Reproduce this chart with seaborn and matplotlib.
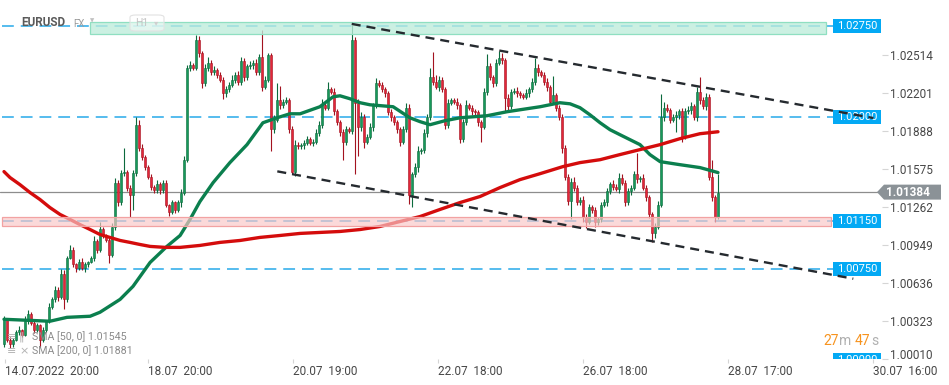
import numpy as np
import pandas as pd
import seaborn as sns
import matplotlib
matplotlib.use("Agg")
import matplotlib.pyplot as plt
from matplotlib.patches import Rectangle, Polygon, FancyBboxPatch
from matplotlib import transforms

sns.set_theme(style="white")
plt.rcParams['font.family'] = ['Roboto', 'DejaVu Sans']
plt.rcParams['lines.scale_dashes'] = False

# ---------------- data (EURUSD H1) ----------------
first_open = 1.0013
closes = [
    1.0034, 1.0017, 1.0013, 1.0017, 1.0023, 1.0025, 1.0021, 1.0032, 1.0038, 1.0031,
    1.0025, 1.0029, 1.0017, 1.0025, 1.0032, 1.0044, 1.0050, 1.0058, 1.0052, 1.0071,
    1.0050, 1.0084, 1.0091, 1.0079, 1.0076, 1.0081, 1.0076, 1.0079, 1.0081, 1.0084,
    1.0098, 1.0091, 1.0108, 1.0103, 1.0099, 1.0087, 1.0110, 1.0146, 1.0130, 1.0154,
    1.0155, 1.0142, 1.0136, 1.0154, 1.0194, 1.0175, 1.0167, 1.0159, 1.0151, 1.0143,
    1.0140, 1.0145, 1.0140, 1.0146, 1.0128, 1.0122, 1.0130, 1.0124, 1.0130, 1.0138,
    1.0165, 1.0241, 1.0243, 1.0241, 1.0264, 1.0253, 1.0228, 1.0241, 1.0245, 1.0237,
    1.0239, 1.0235, 1.0231, 1.0220, 1.0223, 1.0227, 1.0231, 1.0235, 1.0229, 1.0246,
    1.0233, 1.0242, 1.0243, 1.0245, 1.0237, 1.0250, 1.0225, 1.0231, 1.0251, 1.0190,
    1.0198, 1.0214, 1.0210, 1.0213, 1.0214, 1.0190, 1.0155, 1.0177, 1.0176, 1.0177,
    1.0179, 1.0182, 1.0179, 1.0180, 1.0187, 1.0194, 1.0210, 1.0208, 1.0223, 1.0221,
    1.0205, 1.0196, 1.0188, 1.0180, 1.0190, 1.0189, 1.0264, 1.0212, 1.0192, 1.0200,
    1.0180, 1.0184, 1.0192, 1.0210, 1.0228, 1.0227, 1.0223, 1.0220, 1.0204, 1.0200,
    1.0196, 1.0190, 1.0180, 1.0190, 1.0208, 1.0136, 1.0153, 1.0159, 1.0172, 1.0173,
    1.0187, 1.0200, 1.0233, 1.0229, 1.0225, 1.0231, 1.0223, 1.0194, 1.0212, 1.0214,
    1.0213, 1.0210, 1.0182, 1.0196, 1.0210, 1.0208, 1.0205, 1.0204, 1.0196, 1.0192,
    1.0221, 1.0242, 1.0233, 1.0228, 1.0245, 1.0249, 1.0247, 1.0216, 1.0209, 1.0221,
    1.0222, 1.0220, 1.0218, 1.0217, 1.0220, 1.0223, 1.0229, 1.0241, 1.0237, 1.0235,
    1.0229, 1.0225, 1.0213, 1.0218, 1.0208, 1.0200, 1.0175, 1.0151, 1.0131, 1.0147,
    1.0142, 1.0130, 1.0132, 1.0118, 1.0114, 1.0126, 1.0124, 1.0114, 1.0116, 1.0128,
    1.0130, 1.0139, 1.0145, 1.0143, 1.0141, 1.0150, 1.0146, 1.0130, 1.0139, 1.0142,
    1.0153, 1.0149, 1.0150, 1.0142, 1.0134, 1.0120, 1.0105, 1.0110, 1.0128, 1.0200,
    1.0208, 1.0206, 1.0198, 1.0200, 1.0202, 1.0205, 1.0184, 1.0205, 1.0206, 1.0209,
    1.0200, 1.0221, 1.0214, 1.0209, 1.0217, 1.0151, 1.0134, 1.0118, 1.0138,
]
upper_wick_pips = [
    2, 1, 2, 1, 2, 3, 1, 4, 3, 2, 1, 2, 1, 2, 1, 3, 2, 3, 2, 4,
    3, 2, 4, 2, 1, 2, 3, 2, 1, 2, 4, 2, 6, 2, 1, 2, 3, 4, 2, 3,
    20, 2, 2, 3, 6, 4, 3, 2, 2, 2, 1, 3, 2, 2, 2, 1, 2, 1, 2, 3,
    3, 2, 3, 2, 4, 3, 2, 3, 5, 2, 3, 2, 2, 2, 3, 2, 4, 2, 3, 4,
    3, 2, 3, 2, 3, 2, 22, 3, 2, 2, 4, 14, 12, 2, 3, 2, 3, 4, 3, 2,
    2, 3, 2, 2, 3, 3, 5, 3, 6, 2, 3, 2, 2, 2, 3, 2, 12, 2, 3, 4,
    3, 2, 3, 2, 4, 3, 2, 2, 2, 3, 2, 2, 2, 3, 4, 3, 2, 3, 4, 2,
    3, 3, 8, 21, 6, 3, 2, 2, 3, 2, 2, 3, 2, 3, 4, 2, 2, 2, 2, 2,
    3, 10, 3, 2, 3, 6, 4, 2, 3, 2, 2, 3, 2, 2, 3, 2, 3, 8, 3,
    2, 2, 3, 2, 16, 2, 2, 3, 2, 2, 3, 4, 2, 2, 3, 2, 3, 2, 2, 2,
    2, 3, 3, 2, 3, 2, 4, 3, 2, 3, 2, 3, 18, 2, 3, 2, 2, 2, 3, 3,
    19, 5, 3, 2, 3, 3, 2, 3, 3, 3, 4, 2, 4, 12, 3, 3, 2, 14, 2, 15,
]
lower_wick_pips = [
    2, 2, 3, 2, 1, 2, 2, 1, 2, 2, 3, 2, 6, 2, 2, 1, 2, 2, 3, 2,
    8, 2, 1, 2, 3, 2, 2, 3, 2, 1, 2, 3, 2, 2, 2, 7, 2, 3, 3, 2,
    2, 3, 18, 12, 2, 3, 2, 2, 2, 3, 2, 2, 3, 2, 2, 3, 2, 3, 2, 4,
    2, 2, 3, 2, 2, 3, 4, 2, 3, 2, 2, 3, 2, 5, 3, 2, 2, 3, 2, 2,
    3, 2, 2, 3, 2, 2, 3, 2, 2, 18, 3, 2, 3, 2, 2, 3, 2, 3, 2, 2,
    3, 2, 2, 3, 2, 2, 3, 2, 2, 2, 3, 2, 3, 15, 3, 2, 3, 59, 24, 3,
    5, 2, 2, 3, 2, 2, 2, 3, 2, 3, 2, 3, 4, 2, 2, 7, 10, 2, 4, 2,
    2, 3, 2, 2, 2, 3, 2, 4, 3, 2, 2, 3, 3, 2, 2, 2, 3, 2, 3, 12,
    2, 3, 2, 3, 2, 2, 3, 12, 3, 2, 2, 3, 2, 2, 2, 3, 2, 2, 3,
    2, 2, 3, 2, 2, 3, 2, 4, 3, 3, 15, 3, 2, 2, 4, 5, 2, 3, 4, 3,
    2, 2, 3, 2, 3, 2, 3, 2, 3, 2, 3, 2, 3, 2, 2, 3, 3, 8, 4, 2,
    2, 3, 2, 3, 2, 12, 3, 4, 2, 2, 3, 2, 3, 3, 2, 3, 3, 3, 4, 2,
]

sma50_bar = [0, 15.3, 21, 28.7, 32, 38.7, 43, 48.7, 54.3, 58.7, 62, 65.3, 69.7, 75.3, 81,
             86.3, 91, 95.3, 98.7, 105.3, 109.7, 112, 115.3, 118.7, 122, 129.7, 135.3, 138.7,
             142, 147, 152, 161, 167.7, 178.7, 185.3, 188.7, 192, 195.3, 198.7, 202, 205.3,
             212, 215.3, 218.7, 225.3, 232, 238]
sma50_val = [1.00337, 1.00321, 1.00353, 1.00362, 1.00395, 1.00501, 1.00608, 1.00805, 1.00937,
             1.01027, 1.01159, 1.01306, 1.01462, 1.01627, 1.01775, 1.01955, 1.01996, 1.02029,
             1.02029, 1.02087, 1.02169, 1.02177, 1.02153, 1.02120, 1.02103, 1.02087, 1.01996,
             1.01964, 1.01939, 1.01972, 1.01996, 1.02013, 1.02046, 1.02087, 1.02120, 1.02111,
             1.02079, 1.02021, 1.01955, 1.01898, 1.01857, 1.01775, 1.01693, 1.01635, 1.01610,
             1.01586, 1.01545]
sma200_bar = [0, 2, 5.3, 8.7, 12, 15.3, 18.7, 22, 25.3, 28.7, 32, 35.3, 38.7, 42, 45.3, 48.7,
              53.7, 58.7, 65.3, 72, 78.7, 85.3, 92, 98.7, 105.3, 112, 118.7, 125.3, 132, 138.7,
              145.3, 152, 158.7, 165.3, 172, 178.7, 186.3, 192, 198.7, 205.3, 212, 218.7,
              225.3, 232, 238]
sma200_val = [1.01553, 1.01504, 1.01446, 1.01380, 1.01323, 1.01257, 1.01200, 1.01159, 1.01117,
              1.01076, 1.01035, 1.01011, 1.00986, 1.00970, 1.00953, 1.00937, 1.00929, 1.00929,
              1.00945, 1.00970, 1.00986, 1.01011, 1.01027, 1.01044, 1.01052, 1.01060, 1.01076,
              1.01101, 1.01142, 1.01183, 1.01241, 1.01298, 1.01348, 1.01421, 1.01487, 1.01536,
              1.01594, 1.01627, 1.01651, 1.01693, 1.01734, 1.01775, 1.01824, 1.01865, 1.01881]

level_lines = [1.0275, 1.0200, 1.0115, 1.0075]
resistance_zone = [1.02684, 1.02783]
support_zone = [1.01101, 1.01183]
label_values = [1.0275, 1.0200, 1.0115, 1.0075, 1.0000]
label_texts = ["1.02750", "1.02000", "1.01150", "1.00750", "1.00000"]
current_price = 1.01384
upper_trend_bar = [115.9, 289.8]
upper_trend_val = [1.02769, 1.01994]
lower_trend_bar = [91.1, 283.1]
lower_trend_val = [1.01555, 1.00671]
ytick_values = [1.02514, 1.02201, 1.01888, 1.01575, 1.01262, 1.00949, 1.00636, 1.00323, 1.00010]
xtick_bars = [0.33, 48, 96.3, 144.7, 193, 241.3, 289.7]
xtick_labels = ["14.07.2022  20:00", "18.07  20:00", "20.07  19:00", "22.07  18:00",
                "26.07  18:00", "28.07  17:00", "30.07  16:00"]
sma_legend = ["SMA [50, 0] 1.01545", "SMA [200, 0] 1.01881"]

# ---------------- frame ----------------
n = len(closes)
assert len(upper_wick_pips) == n and len(lower_wick_pips) == n, (n, len(upper_wick_pips), len(lower_wick_pips))
opens = [first_open] + closes[:-1]
df = pd.DataFrame({"bar": np.arange(n), "open": opens, "close": closes})
df["top"] = df[["open", "close"]].max(axis=1)
df["bot"] = df[["open", "close"]].min(axis=1)
df["high"] = df["top"] + np.array(upper_wick_pips) * 0.0001
df["low"] = df["bot"] - np.array(lower_wick_pips) * 0.0001
df["bull"] = df["close"] >= df["open"]

W, H = 949, 385
fig = plt.figure(figsize=(W / 100, H / 100), dpi=100)
fig.patch.set_facecolor("white")
AX_R = 882
AX_B = 359
ax = fig.add_axes([0, (H - AX_B) / H, AX_R / W, AX_B / H])
ax.set_facecolor("white")
px = 0.00008215
ax.set_xlim(-4 / 3, (AX_R - 4) / 3)
ax.set_ylim(1.02514 - (AX_B - 55) * px, 1.02514 + 55 * px)
for s in ax.spines.values():
    s.set_visible(False)
ax.grid(False)
trans = transforms.blended_transform_factory(ax.transAxes, ax.transData)

# level dashed lines
for lv in level_lines:
    ax.axhline(lv, xmin=2 / AX_R, xmax=833 / AX_R, color="#27a9ea", lw=1.1,
               dashes=(8.5, 5), zorder=1)
# current price line
ax.axhline(current_price, xmin=0, xmax=1, color="#8d8d8d", lw=0.9, zorder=1.5)

# candles
GREEN, GREEN_E = "#17995a", "#0b6a3c"
RED, RED_E = "#e32639", "#a3121f"
wick_cols = np.where(df["bull"], GREEN_E, RED_E)
ax.vlines(df["bar"], df["low"], df["high"], colors=wick_cols, lw=0.8, zorder=2)
heights = np.maximum(df["top"] - df["bot"], 0.00004)
ax.bar(df["bar"], heights, bottom=df["bot"], width=0.72,
       color=np.where(df["bull"], GREEN, RED), edgecolor=wick_cols, linewidth=0.4, zorder=3)

# moving averages
sns.lineplot(x=sma50_bar, y=sma50_val, ax=ax, color="#0b7f4e", lw=2.4, zorder=4,
             sort=False, estimator=None)
sns.lineplot(x=sma200_bar, y=sma200_val, ax=ax, color="#d40c0c", lw=2.4, zorder=4,
             sort=False, estimator=None)

# zones
ax.add_patch(Rectangle((90 / AX_R, resistance_zone[0]), (826 - 90) / AX_R,
                       resistance_zone[1] - resistance_zone[0], transform=trans,
                       facecolor=(0.74, 0.93, 0.86, 0.78), edgecolor="#8fdfc1", lw=0.9, zorder=5))
ax.add_patch(Rectangle((2 / AX_R, support_zone[0]), (831 - 2) / AX_R,
                       support_zone[1] - support_zone[0], transform=trans,
                       facecolor=(0.98, 0.78, 0.78, 0.68), edgecolor="#f2a2a2", lw=0.9, zorder=5))

# price labels
lh = 14 * px
for v, t in zip(label_values, label_texts):
    ax.add_patch(Rectangle((833 / AX_R, v - lh / 2), 48 / AX_R, lh, transform=trans,
                           facecolor="#03a9f4", edgecolor="none", zorder=7))
    ax.text(837.5 / AX_R, v, t, transform=trans, color="white", fontsize=8,
            va="center", ha="left", zorder=7.5, clip_on=True)

# trend lines
ax.plot(upper_trend_bar, upper_trend_val, color="#252a2f", lw=1.7, dashes=(6.5, 4.3), zorder=8)
ax.plot(lower_trend_bar, lower_trend_val, color="#252a2f", lw=1.7, dashes=(6.5, 4.3), zorder=8)

# current price tag
th = 15 * px
cp = current_price
tag = Polygon([(877 / AX_R, cp), (884 / AX_R, cp + th / 2), (941 / AX_R, cp + th / 2),
               (941 / AX_R, cp - th / 2), (884 / AX_R, cp - th / 2)], closed=True,
              transform=trans, facecolor="#8b9297", edgecolor="none", zorder=9, clip_on=False)
ax.add_patch(tag)
ax.text(886 / AX_R, cp, f"{cp:.5f}", transform=trans, color="white", fontsize=8.5,
        fontweight="bold", va="center", ha="left", zorder=10, clip_on=False)

# axes ticks (right price scale)
ax.yaxis.tick_right()
ax.set_yticks(ytick_values)
ax.set_yticklabels([f"{v:.5f}" for v in ytick_values[:-1]] + [""])
ax.tick_params(axis="y", right=True, left=False, length=4, width=0.8, color="#d5d5d5",
               pad=2, labelsize=8.5, labelcolor="#474747")
# lowest price label sits slightly raised above the time scale
ax.text(1 + 8 / AX_R, ytick_values[-1] + 4 * px, f"{ytick_values[-1]:.5f}", transform=trans,
        fontsize=8.5, color="#474747", va="center", ha="left", clip_on=False)

ax.set_xticks(xtick_bars)
ax.set_xticklabels(xtick_labels)
ax.tick_params(axis="x", bottom=True, length=3, width=0.8, color="#d5d5d5", pad=1,
               labelsize=8.5, labelcolor="#474747")
for lbl in ax.get_xticklabels():
    lbl.set_ha("left")
ax.set_xlabel("")
ax.set_ylabel("")


def ftext(x, y, s, **kw):
    return fig.text(x / W, 1 - y / H, s, **kw)


# header
ftext(21, 23, "EURUSD", fontsize=8.5, color="#5a5a5a", fontweight="bold", va="center", ha="left")
ftext(73, 24, "FX", fontsize=7, color="#9c9c9c", va="center", ha="left")
ftext(90, 21, "▼", fontsize=4, color="#c0c0c0", va="center", ha="left", family="DejaVu Sans")
fig.patches.append(FancyBboxPatch((130 / W, 1 - 31 / H), 34 / W, 16 / H,
                                  boxstyle="round,pad=0,rounding_size=0.006",
                                  transform=fig.transFigure, facecolor=(1, 1, 1, 0.45),
                                  edgecolor="#e2e2e2", lw=0.8, zorder=3))
ftext(135, 23, "H1", fontsize=7.5, color="#c3c3c3", va="center", ha="left", zorder=4)
ftext(154, 23, "▾", fontsize=6, color="#cfcfcf", va="center", ha="left", zorder=4,
      family="DejaVu Sans")

# legend bottom-left
for k, (lbl, yy) in enumerate(zip(sma_legend, [337, 351])):
    ftext(32, yy, lbl, fontsize=7.7, color="#8a8a8a", va="center", ha="left", zorder=6)
    ftext(7, yy, "≡", fontsize=8, color="#b3b3b3", va="center", ha="left", zorder=6,
          family="DejaVu Sans")
    ftext(19, yy, "×" if k else "‖", fontsize=8, color="#b3b3b3", va="center", ha="left",
          zorder=6, family="DejaVu Sans")

# countdown timer
ftext(823, 341, "27", fontsize=10, color="#f7931e", va="center", ha="left")
ftext(839, 341, "m", fontsize=10, color="#b0b0b0", va="center", ha="left")
ftext(855, 341, "47", fontsize=10, color="#f7931e", va="center", ha="left")
ftext(871, 341, "s", fontsize=10, color="#b0b0b0", va="center", ha="left")

fig.savefig("out.png", dpi=100, facecolor="white")
